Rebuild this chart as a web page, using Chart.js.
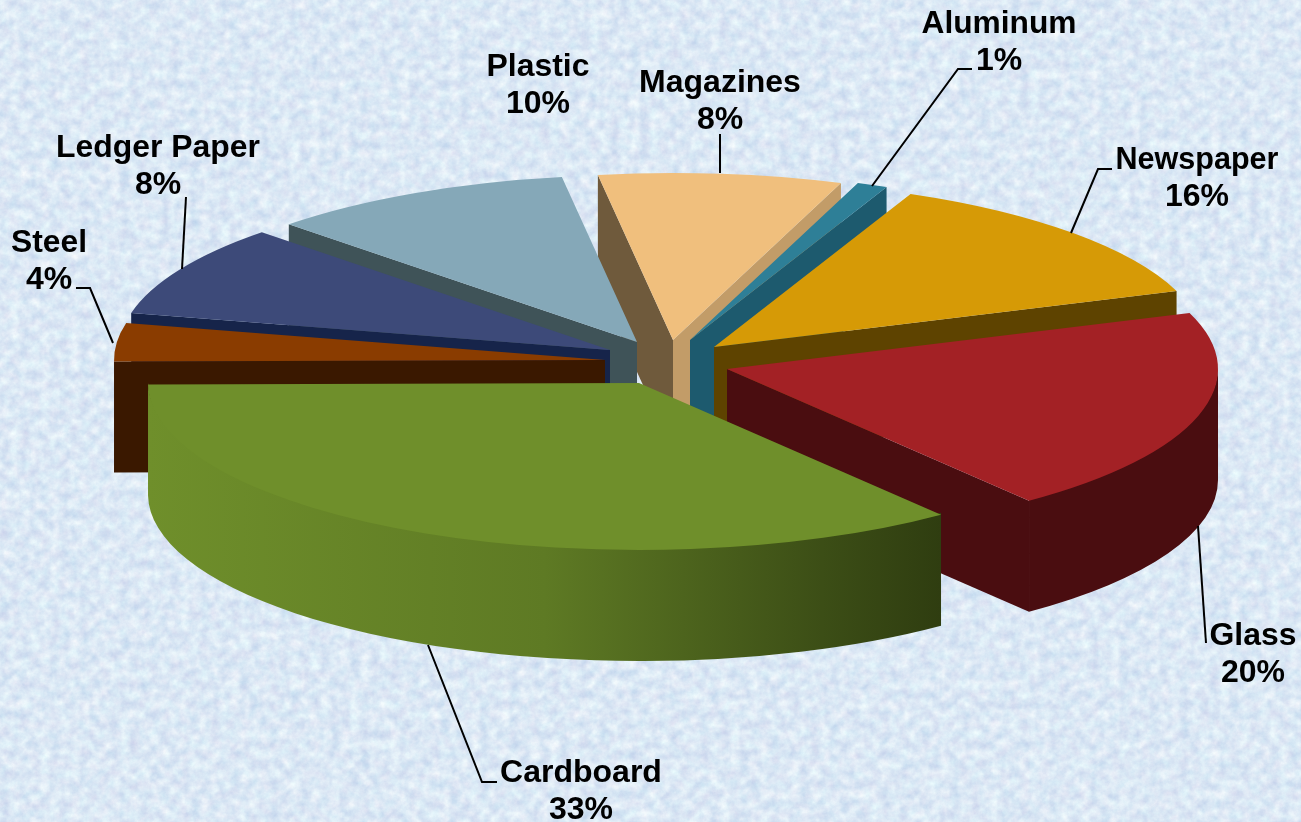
<!DOCTYPE html>
<html lang="en">
<head>
    <meta charset="UTF-8">
    <title>Waste composition</title>
    <style>
        body{
            margin: 0;
            overflow: hidden;
            width: 1301px;
            height: 822px;
            position: relative;
        }
        #paper{ position: absolute; left: 0; top: 0; }
        #wrap{ position: absolute; left: 0; top: 0; width: 1301px; height: 822px; }
    </style>
</head>
<body>
<svg id="paper" width="1301" height="822" aria-hidden="true">
    <filter id="mottle" x="0" y="0" width="100%" height="100%" color-interpolation-filters="sRGB">
        <feTurbulence type="fractalNoise" baseFrequency="0.1" numOctaves="5" seed="11"/>
        <feColorMatrix type="matrix" values="0.2 0.08 0 0 0.72  0.18 0 0 0 0.82  0.08 0 0 0 0.92  0 0 0 0 1"/>
    </filter>
    <rect width="1301" height="822" filter="url(#mottle)"/>
</svg>
<div id="wrap"><canvas id="chart"></canvas></div>
<script src="https://cdn.jsdelivr.net/npm/chart.js"></script>
<script>
    const categories = ['Aluminum', 'Newspaper', 'Glass', 'Cardboard', 'Steel', 'Ledger Paper', 'Plastic', 'Magazines'];
    // what the labels print
    const printedPercents = [1, 16, 20, 33, 4, 8, 10, 8];
    // size of each wedge, the original's wedges
    // do not quite agree with its printed labels (Newspaper, Cardboard)
    const wedgeShares = [1.0, 13.0, 19.9, 35.4, 3.7, 8.9, 10.1, 8.0];

    const topColors = ['#2e7f97', '#d69a06', '#a32125', '#6f8f2b', '#8a3c00', '#3d4a79', '#85a8b8', '#f0bf7d'];
    const startWallColors = ['#1d5a6e', '#5e4300', '#4a0d10', '#5e7a24', '#3a1800', '#16244a', '#3f5358', '#6f5a3c'];
    const endWallColors = ['#1d5a6e', '#5e4300', '#4a0d10', '#5e7a24', '#3a1800', '#16244a', '#3f5358', '#c29c68'];

    // view of the tilted pie
    const view = {x: 660, y: 358, rx: 491, ry: 167, depth: 111};
    // how far each wedge is pulled out of the pie, px
    const explodeX = [30, 54, 67, -21, -55, -50, -23, 13];
    const explodeY = [-18, -11, 11, 25, 2, -8, -16, -18];

    // label centre x, middle y of the first line, width of the name
    const labelX = [999, 1197, 1253, 581, 49, 158, 538, 720];
    const labelY = [24, 160, 636, 773, 243, 148, 67, 83];
    const labelW = [155, 163, 87, 162, 76, 204, 103, 162];
    const leaders = [
        [[872, 186], [958, 69], [972, 69]],
        [[1071, 233], [1098, 169], [1112, 169]],
        [[1198, 526], [1206, 643]],
        [[428, 645], [482, 782], [497, 782]],
        [[113, 343], [90, 288], [76, 288]],
        [[182, 269], [186, 197]],
        [],
        [[720, 173], [720, 134]]
    ];

    function cardboardFill(ctx, x0, x1, i, flat){
        if(categories[i] !== 'Cardboard') return flat;
        const g = ctx.createLinearGradient(x0, 0, x1, 0);
        g.addColorStop(0, '#6f8f2b');
        g.addColorStop(0.5, '#5e7a24');
        g.addColorStop(0.85, '#3c4e16');
        g.addColorStop(1, '#2f3d10');
        return g;
    }

    function radialWall(ctx, ox, oy, angle, color){
        const rimX = ox + view.rx * Math.cos(angle);
        const rimY = oy + view.ry * Math.sin(angle);
        ctx.fillStyle = color;
        ctx.beginPath();
        ctx.moveTo(ox, oy);
        ctx.lineTo(rimX, rimY);
        ctx.lineTo(rimX, rimY + view.depth);
        ctx.lineTo(ox, oy + view.depth);
        ctx.closePath();
        ctx.fill();
    }

    const tiltedPie = {
        id: 'tiltedPie',
        beforeDatasetDraw(chart, args){
            const ctx = chart.ctx;
            const arcs = args.meta.data;
            // back wedges first
            const order = arcs.map((a, i) => i).sort((p, q) => {
                const mid = (a) => (a.startAngle + a.endAngle) / 2;
                return Math.sin(mid(arcs[p])) - Math.sin(mid(arcs[q]));
            });
            order.forEach((i) => {
                const arc = arcs[i];
                const ox = view.x + explodeX[i];
                const oy = view.y + explodeY[i];
                if(Math.cos(arc.startAngle) < 0) radialWall(ctx, ox, oy, arc.startAngle, startWallColors[i]);
                if(Math.cos(arc.endAngle) > 0) radialWall(ctx, ox, oy, arc.endAngle, endWallColors[i]);

                const lo = Math.max(arc.startAngle, 0);
                const hi = Math.min(arc.endAngle, Math.PI);
                if(lo < hi){
                    ctx.fillStyle = cardboardFill(ctx, ox + view.rx * Math.cos(hi), ox + view.rx * Math.cos(lo), i, startWallColors[i]);
                    ctx.beginPath();
                    // start a little above the rim so no seam shows under the top
                    ctx.ellipse(ox, oy - 2, view.rx, view.ry, 0, lo, hi);
                    ctx.ellipse(ox, oy + view.depth, view.rx, view.ry, 0, hi, lo, true);
                    ctx.closePath();
                    ctx.fill();
                }

                ctx.save();
                ctx.translate(ox, oy);
                ctx.scale(view.rx / arc.outerRadius, view.ry / arc.outerRadius);
                ctx.translate(-arc.x, -arc.y);
                arc.draw(ctx);
                ctx.restore();
            });
            return false;
        },
        afterDraw(chart){
            const ctx = chart.ctx;
            ctx.save();
            ctx.strokeStyle = '#000';
            ctx.lineWidth = 2;
            leaders.forEach((pts) => {
                if(!pts.length) return;
                ctx.beginPath();
                pts.forEach((p, j) => j ? ctx.lineTo(p[0], p[1]) : ctx.moveTo(p[0], p[1]));
                ctx.stroke();
            });
            ctx.fillStyle = '#000';
            ctx.font = 'bold 32px "Liberation Sans"';
            ctx.textAlign = 'center';
            ctx.textBaseline = 'middle';
            categories.forEach((name, i) => {
                ctx.fillText(name, labelX[i], labelY[i], labelW[i]);
                ctx.fillText(printedPercents[i] + '%', labelX[i], labelY[i] + 37);
            });
            ctx.restore();
        }
    };

    new Chart(document.getElementById('chart'), {
        type: 'pie',
        data: {
            labels: categories,
            datasets: [{
                data: wedgeShares,
                backgroundColor: topColors,
                borderWidth: 0
            }]
        },
        options: {
            rotation: 20,
            animation: false,
            responsive: true,
            maintainAspectRatio: false,
            plugins: {legend: {display: false}, tooltip: {enabled: false}}
        },
        plugins: [tiltedPie]
    });
</script>
</body>
</html>
